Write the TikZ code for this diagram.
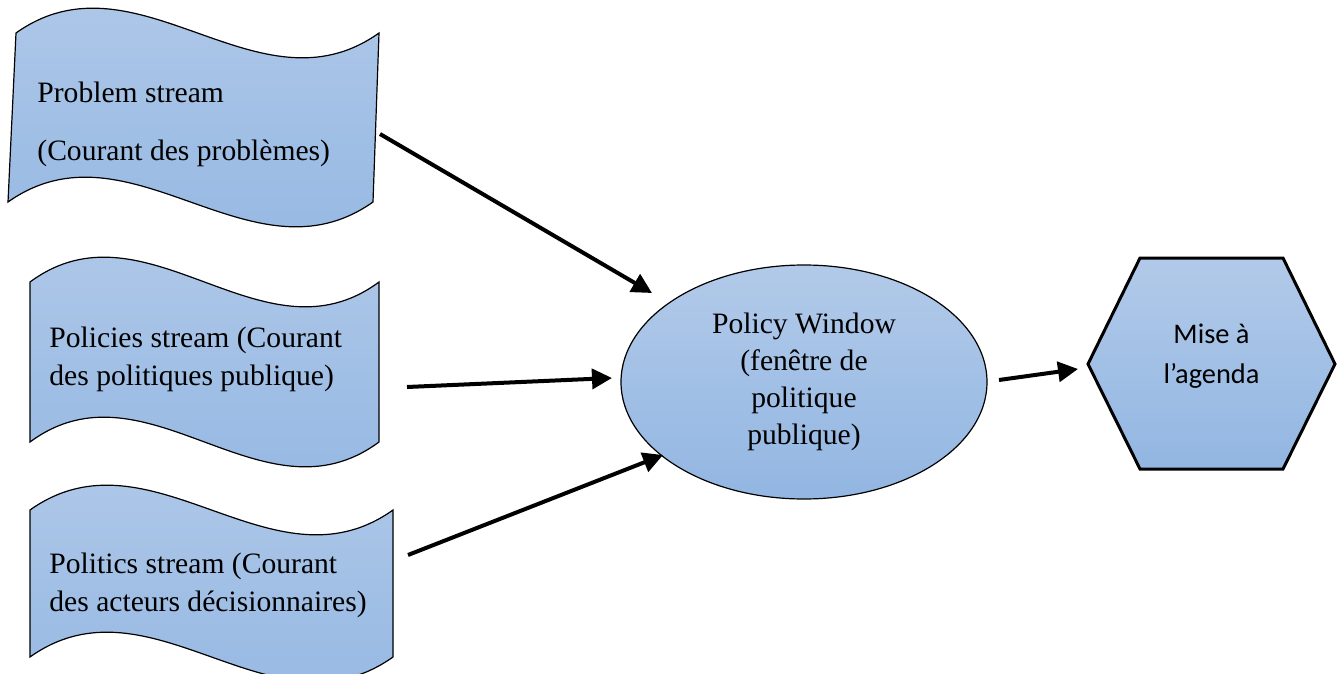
\documentclass[tikz,border=0pt]{standalone}
\usepackage{fontspec}
\setmainfont{Liberation Serif}
\newfontfamily\calibrifont{Carlito}
\usetikzlibrary{arrows.meta,shapes.geometric}
\definecolor{topblue}{RGB}{178,202,233}
\definecolor{botblue}{RGB}{146,182,226}
\begin{document}
\begin{tikzpicture}[x=0.5pt,y=-0.5pt,
  shapefill/.style={top color=topblue,bottom color=botblue,draw=black,line width=0.6pt},
  txt/.style={font=\fontsize{14.8pt}{19pt}\selectfont, align=left, inner sep=0pt},
  arr/.style={line width=2pt,-{Triangle[length=10pt,width=10pt]}}]
\clip (0,0) rectangle (1338,674);
\fill[white] (0,0) rectangle (1338,674);
% waves
\path[shapefill] (16,33) .. controls (137,-53) and (258,119) .. (379,33)
  -- (373,202) .. controls (251.3,288) and (129.7,116) .. (8,202) -- cycle;
\path[shapefill] (30,282) .. controls (146.3,196) and (262.7,368) .. (379,282)
  -- (379,442) .. controls (262.7,528) and (146.3,356) .. (30,442) -- cycle;
\path[shapefill] (30,510) .. controls (151,424) and (272,596) .. (393,510)
  -- (393,657) .. controls (272,743) and (151,571) .. (30,657) -- cycle;
\node[txt, anchor=west] (prob) at (37,124) {Problem stream\\[10pt](Courant des problèmes)};
\node[txt, anchor=west] (polic) at (49,359) {Policies stream (Courant\\des politiques publique)};
\node[txt, anchor=west] (polit) at (49,585) {Politics stream (Courant\\des acteurs décisionnaires)};
% ellipse
\node[ellipse, shapefill, minimum width=183pt, minimum height=117pt, inner sep=0pt,
  align=center, font=\fontsize{14.8pt}{18.5pt}\selectfont] (pw) at (804,382)
  {Policy Window\\(fenêtre de\\politique\\publique)};
% hexagon
\path[shapefill, line width=1.5pt] (1088,364) -- (1140,258) -- (1283,258) -- (1335,364)
  -- (1283,469) -- (1140,469) -- cycle;
\node[font=\calibrifont\fontsize{14.2pt}{20pt}\selectfont, align=center, inner sep=0pt]
  (agenda) at (1211.5,356) {Mise à\\l’agenda};
% arrows
\coordinate (s1) at (380,134); \coordinate (e1) at (652,293);
\coordinate (s2) at (407,387); \coordinate (e2) at (612,378);
\coordinate (s3) at (408,555); \coordinate (e3) at (663,455);
\coordinate (s4) at (999,380); \coordinate (e4) at (1078,369);
\draw[arr] (s1) -- (e1);
\draw[arr] (s2) -- (e2);
\draw[arr] (s3) -- (e3);
\draw[arr] (s4) -- (e4);
\end{tikzpicture}
\end{document}
